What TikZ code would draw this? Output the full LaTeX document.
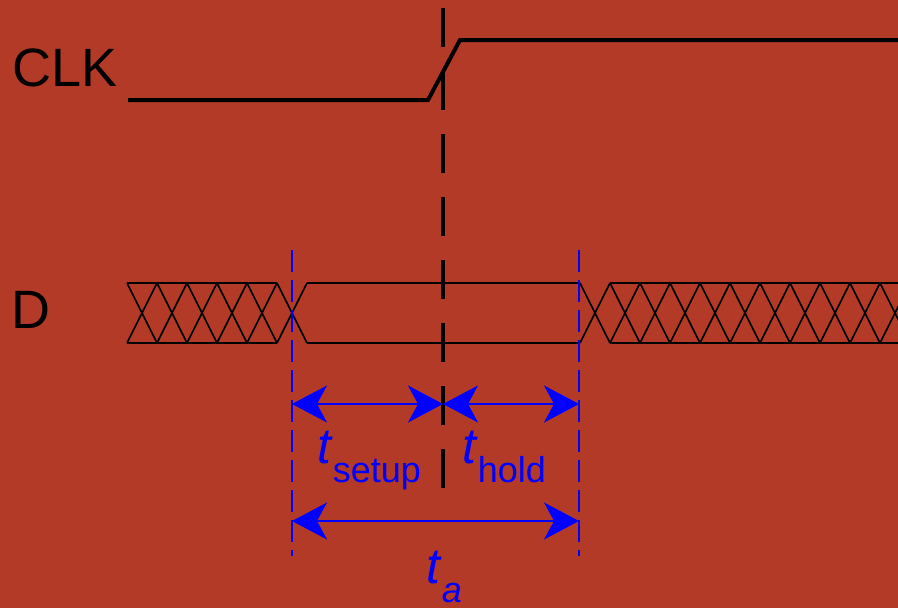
\documentclass[tikz,border=0pt]{standalone}
\usepackage{fontspec}
\setmainfont{Liberation Sans}
\usetikzlibrary{arrows.meta}
\definecolor{bgred}{RGB}{180,58,40}

\begin{document}
\begin{tikzpicture}[x=1pt, y=-1pt]
      \tikzstyle{sig} = [line width=1.6pt, black]
      \tikzstyle{clkline} = [line width=4pt, black, miter limit=4]
      \tikzstyle{edgemark} = [line width=4pt, black, dash pattern=on 39pt off 24pt]
      \tikzstyle{marker} = [line width=1.5pt, blue, dash pattern=on 22pt off 8pt]
      \tikzstyle{span} = [line width=1.8pt, blue, {Stealth[length=35pt, width=37pt, inset=10pt]}-{Stealth[length=35pt, width=37pt, inset=10pt]}]
      \tikzstyle{signame} = [anchor=base west, inner sep=0pt, font=\fontsize{54}{54}\selectfont]
      \tikzstyle{tlabel} = [anchor=base west, inner sep=0pt, text=blue, font=\fontsize{50}{50}\selectfont]
      \newcommand{\tsub}[1]{\textit{t}\raisebox{-19pt}{\fontsize{36}{36}\selectfont #1}}

      \fill [bgred] (0,0) rectangle (898,608);
      \clip (0,0) rectangle (898,608);

      % signal names
      \node (clk) [signame] at (12,86) {CLK};
      \node (d) [signame] at (11,328) {D};

      % clock
      \draw [clkline] (128,100) -- (428,100) -- (460,40) -- (900,40);
      \draw [edgemark] (443,8) -- (443,492);

      % data: don't care, valid, don't care
      \foreach \x in {127,157,...,277}
        \draw [sig] (\x,283) -- (\x+30,343) (\x,343) -- (\x+30,283);
      \foreach \x in {580,610,...,880}
        \draw [sig] (\x,283) -- (\x+30,343) (\x,343) -- (\x+30,283);
      \draw [sig] (127,283) -- (277,283) (127,343) -- (277,343);
      \draw [sig] (307,283) -- (580,283) (307,343) -- (580,343);
      \draw [sig] (610,283) -- (900,283) (610,343) -- (900,343);

      % timing markers
      \coordinate (setupL) at (292,404);
      \coordinate (edge) at (443,404);
      \coordinate (holdR) at (579,404);
      \coordinate (aL) at (292,521);
      \coordinate (aR) at (579,521);
      \draw [marker] (292,250) -- (292,556);
      \draw [marker] (579,250) -- (579,556);

      \draw [span] (setupL) -- (edge);
      \draw [span] (edge) -- (holdR);
      \draw [span] (aL) -- (aR);

      \node (tsetup) [tlabel] at (317,463) {\tsub{setup}};
      \node (thold) [tlabel] at (462,463) {\tsub{hold}};
      \node (ta) [tlabel] at (426,583) {\tsub{\itshape a}};
    \end{tikzpicture}
\end{document}
